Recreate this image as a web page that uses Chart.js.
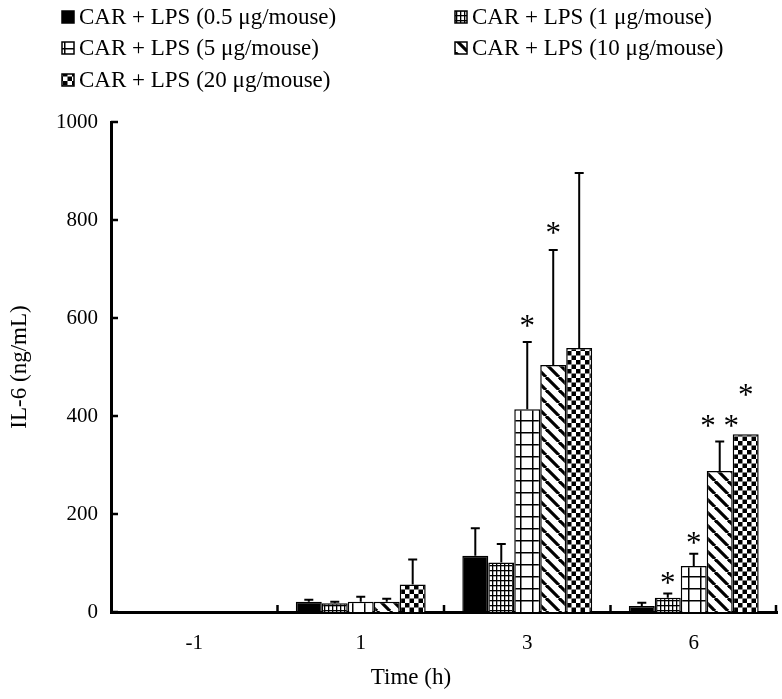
<!DOCTYPE html>
<html lang="en">
<head>
    <meta charset="UTF-8">
    <title>IL-6 (ng/mL) vs Time</title>
    <script src="https://cdn.jsdelivr.net/npm/chart.js"></script>
    <style>
        html, body {
            margin: 0;
            padding: 0;
            background: #fff;
        }
        #wrap {
            width: 782px;
            height: 699px;
        }
    </style>
</head>
<body>
    <div id="wrap"><canvas id="il6Chart" width="782" height="699"></canvas></div>

    <script>
        // ---- data ----
        const timeLabels = ['-1', '1', '3', '6'];
        const seriesNames = [
            'CAR + LPS (0.5 \u03bcg/mouse)',
            'CAR + LPS (1 \u03bcg/mouse)',
            'CAR + LPS (5 \u03bcg/mouse)',
            'CAR + LPS (10 \u03bcg/mouse)',
            'CAR + LPS (20 \u03bcg/mouse)'
        ];
        const mean05 = [0, 21, 115, 12];
        const mean1 = [0, 18, 101, 29];
        const mean5 = [0, 21, 414, 94];
        const mean10 = [0, 21, 504, 288];
        const mean20 = [0, 56, 539, 363];
        // upper error (SD)
        const sd05 = [0, 4, 56, 7];
        const sd1 = [0, 3, 38, 9];
        const sd5 = [0, 10, 137, 25];
        const sd10 = [0, 6, 235, 60];
        const sd20 = [0, 51, 357, 0];
        const yTicks = [0, 200, 400, 600, 800, 1000];
        // significance marks: series index, time index, mark, level (ng/mL)
        const starSeries = [2, 3, 1, 2, 3, 4];
        const starTime = [2, 2, 3, 3, 3, 3];
        const starText = ['*', '*', '*', '*', '* *', '*'];
        const starLevel = [588, 778, 63, 145, 384, 447];
        const xTitle = 'Time (h)';

        const FONT = "'Liberation Serif', 'Times New Roman', serif";

        // ---- fill patterns ----
        function makeTile(w, h, draw) {
            const c = document.createElement('canvas');
            c.width = w;
            c.height = h;
            const g = c.getContext('2d');
            g.fillStyle = '#fff';
            g.fillRect(0, 0, w, h);
            g.fillStyle = '#000';
            g.strokeStyle = '#000';
            draw(g, w, h);
            return c;
        }
        const patCtx = document.createElement('canvas').getContext('2d');
        const fineGrid = patCtx.createPattern(makeTile(4, 5, (g) => {
            g.fillRect(0, 0, 4, 1.3);
            g.fillRect(0, 0, 1.3, 5);
        }), 'repeat');
        const wideGrid = patCtx.createPattern(makeTile(12, 12, (g) => {
            g.fillRect(0, 0, 12, 1.5);
            g.fillRect(4, 0, 1.5, 12);
        }), 'repeat');
        const diagonal = patCtx.createPattern(makeTile(13, 13, (g, w, h) => {
            g.lineWidth = 3.2;
            for (let k = -1; k <= 1; k++) {
                g.beginPath();
                g.moveTo(k * w, 0);
                g.lineTo(k * w + w, h);
                g.stroke();
            }
        }), 'repeat');
        const checker = patCtx.createPattern(makeTile(9, 9, (g) => {
            g.fillRect(0, 0, 4.5, 4.5);
            g.fillRect(4.5, 4.5, 4.5, 4.5);
        }), 'repeat');

        const fills = ['#000', fineGrid, wideGrid, diagonal, checker];
        const means = [mean05, mean1, mean5, mean10, mean20];
        const sds = [sd05, sd1, sd5, sd10, sd20];

        // ---- error bars, inward ticks, stars, legend, x title ----
        const extrasPlugin = {
            id: 'extras',
            afterDatasetsDraw(chart) {
                const ctx = chart.ctx;
                const ys = chart.scales.y;
                const area = chart.chartArea;
                ctx.save();
                ctx.strokeStyle = '#000';
                ctx.lineWidth = 2;

                // error bars (upper only)
                means.forEach((m, i) => {
                    const meta = chart.getDatasetMeta(i);
                    meta.data.forEach((bar, j) => {
                        if (!sds[i][j]) return;
                        const top = ys.getPixelForValue(m[j] + sds[i][j]);
                        ctx.beginPath();
                        ctx.moveTo(bar.x, bar.y);
                        ctx.lineTo(bar.x, top);
                        ctx.moveTo(bar.x - 4.5, top);
                        ctx.lineTo(bar.x + 4.5, top);
                        ctx.stroke();
                    });
                });

                // inward ticks on y axis
                ctx.lineWidth = 2.5;
                yTicks.forEach(v => {
                    const py = ys.getPixelForValue(v);
                    ctx.beginPath();
                    ctx.moveTo(area.left, py);
                    ctx.lineTo(area.left + 7, py);
                    ctx.stroke();
                });
                // inward ticks between time groups on x axis
                const step = (area.right - area.left) / timeLabels.length;
                for (let k = 1; k <= timeLabels.length; k++) {
                    const px = Math.min(area.left + k * step, area.right - 1);
                    ctx.beginPath();
                    ctx.moveTo(px, area.bottom);
                    ctx.lineTo(px, area.bottom - 7);
                    ctx.stroke();
                }

                // significance stars
                ctx.fillStyle = '#000';
                ctx.font = '31px ' + FONT;
                ctx.textAlign = 'center';
                ctx.textBaseline = 'alphabetic';
                starText.forEach((t, k) => {
                    const bar = chart.getDatasetMeta(starSeries[k]).data[starTime[k]];
                    const py = ys.getPixelForValue(starLevel[k]);
                    ctx.fillText(t, bar.x, py + 12);
                });
                ctx.restore();
            },
            afterDraw(chart) {
                const ctx = chart.ctx;
                ctx.save();
                ctx.fillStyle = '#000';
                // x axis title, set a little left of the plot centre as in the figure
                ctx.font = '23px ' + FONT;
                ctx.textAlign = 'center';
                ctx.textBaseline = 'middle';
                ctx.fillText(xTitle, 411, 678);

                ctx.font = '23px ' + FONT;
                ctx.textBaseline = 'middle';
                ctx.textAlign = 'left';
                const colX = [62, 455];
                const rowY = [17, 48, 80];
                seriesNames.forEach((name, i) => {
                    const x = colX[i % 2];
                    const y = rowY[Math.floor(i / 2)];
                    ctx.fillStyle = fills[i];
                    ctx.fillRect(x, y - 6, 12, 12);
                    ctx.strokeStyle = '#000';
                    ctx.lineWidth = 1.5;
                    ctx.strokeRect(x, y - 6, 12, 12);
                    ctx.fillStyle = '#000';
                    ctx.fillText(name, x + 17, y + 1);
                });
                ctx.restore();
            }
        };

        const datasets = seriesNames.map((name, i) => ({
            label: name,
            data: means[i],
            backgroundColor: fills[i],
            borderColor: '#000',
            borderWidth: 1.5,
            categoryPercentage: 0.78,
            barPercentage: 1.0
        }));

        new Chart(document.getElementById('il6Chart'), {
            type: 'bar',
            data: { labels: timeLabels, datasets: datasets },
            options: {
                responsive: false,
                animation: false,
                layout: { padding: { top: 122, right: 5, bottom: 0, left: 0 } },
                plugins: {
                    legend: { display: false },
                    tooltip: { enabled: false }
                },
                scales: {
                    x: {
                        grid: { display: false, drawTicks: false },
                        border: { display: true, color: '#000', width: 3 },
                        ticks: { color: '#000', font: { family: FONT, size: 21 }, padding: 19 },
                        afterFit: s => { s.height = 87; }
                    },
                    y: {
                        min: 0,
                        max: 1000,
                        grid: { display: false, drawTicks: false },
                        border: { display: true, color: '#000', width: 3 },
                        ticks: {
                            stepSize: 200, color: '#000', padding: 13,
                            font: { family: FONT, size: 21 },
                            callback: v => String(v)
                        },
                        title: {
                            display: true, text: 'IL-6 (ng/mL)', color: '#000',
                            font: { family: FONT, size: 23 }, padding: { top: 6, bottom: 0 }
                        },
                        afterFit: s => { s.width = 111; }
                    }
                }
            },
            plugins: [extrasPlugin]
        });
    </script>
</body>
</html>
